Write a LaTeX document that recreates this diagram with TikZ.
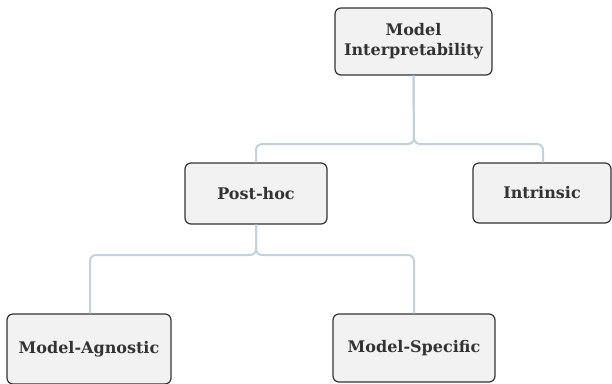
\documentclass[tikz,border=0pt]{standalone}
\usepackage{fontspec}
\setmainfont{DejaVu Serif}
\definecolor{boxfill}{HTML}{F2F2F2}
\definecolor{boxline}{HTML}{333333}
\definecolor{linkc}{HTML}{C3D2DA}
\definecolor{txt}{HTML}{333333}
\begin{document}
\begin{tikzpicture}[x=1pt,y=-1pt,
  nodebox/.style={draw=boxline, fill=boxfill, line width=1.2pt, rounded corners=6pt,
    align=center, text=txt, font=\fontsize{16}{20}\selectfont\bfseries, inner sep=0pt},
  link/.style={draw=linkc, line width=2pt, rounded corners=6pt}]
\useasboundingbox (0,0) rectangle (612,383);
\node[nodebox, minimum width=157pt, minimum height=67pt] (root) at (413.5,41.5) {Model\\Interpretability};
\node[nodebox, minimum width=142pt, minimum height=61pt] (post) at (256,193.5) {Post-hoc};
\node[nodebox, minimum width=138pt, minimum height=60pt] (intr) at (542,193) {Intrinsic};
\node[nodebox, minimum width=164pt, minimum height=70pt] (agn) at (89,349) {Model-Agnostic};
\node[nodebox, minimum width=162pt, minimum height=68pt] (spec) at (414,348) {Model-Specific};
\coordinate (j1) at (414,144);
\coordinate (j2) at (256,255);
\draw[link] (root.south) -- (j1) -| (post.north);
\draw[link] (root.south) -- (j1) -| ([xshift=1pt]intr.north);
\draw[link] (post.south) -- (j2) -| ([xshift=1pt]agn.north);
\draw[link] (post.south) -- (j2) -| (spec.north);
\end{tikzpicture}
\end{document}
